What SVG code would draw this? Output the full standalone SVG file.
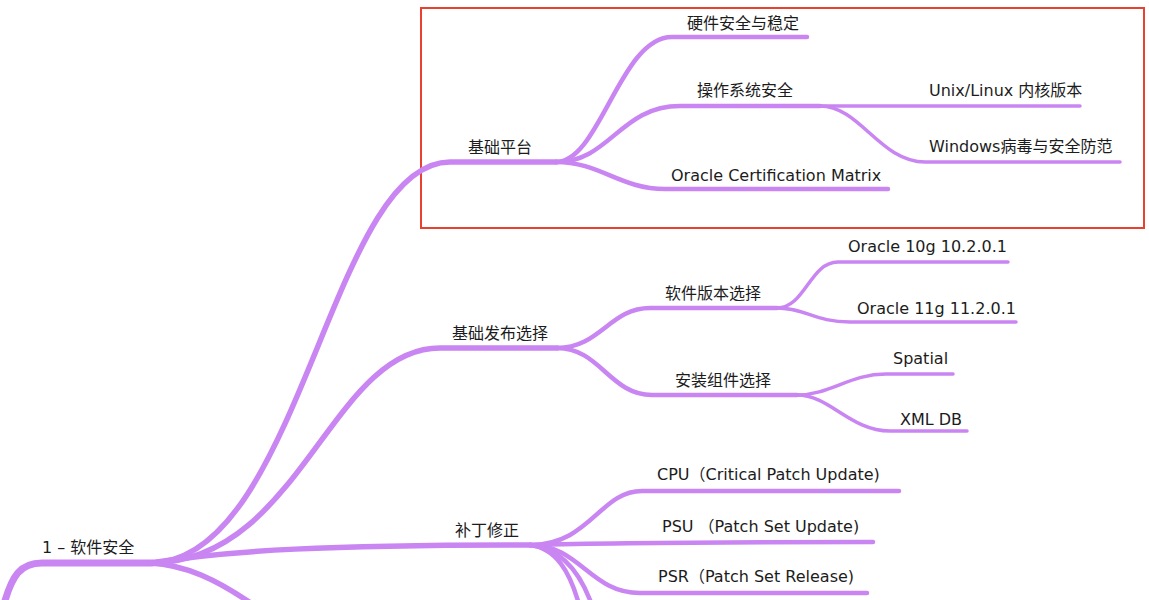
<svg xmlns="http://www.w3.org/2000/svg" width="1149" height="600" viewBox="0 0 1149 600">
<style>
.c{fill:none;stroke:#c985f2;stroke-linecap:round;stroke-linejoin:round}
.w0{stroke-width:7}
.w1{stroke-width:5.5}
.w2{stroke-width:4.5}
.w3{stroke-width:3.5}
text{font-family:"DejaVu Sans","Noto Sans CJK SC",sans-serif;font-size:16px;fill:#1c1c1c}
</style>
<rect width="1149" height="600" fill="#ffffff"/>
<rect x="421" y="8" width="723" height="220" fill="none" stroke="#e8412f" stroke-width="2"/>
<g id="connectors">
<path class="c w0" d="M4,604 C12,576 20,563 42,563 L152,563"/>
<path class="c w1" d="M150,563 C300,563 330,162 450,162 L556,162"/>
<path class="c w1" d="M150,563 C300,563 330,348 440,348 L557,348"/>
<path class="c w1" d="M150,563 C230,550 330,545 530,545"/>
<path class="c w1" d="M150,563 C185,565 215,578 258,608"/>
<path class="c w2" d="M556,162 C600,162 620,37 672,37 L807,37"/>
<path class="c w2" d="M556,162 C610,162 620,106 680,106 L820,106"/>
<path class="c w2" d="M556,162 C600,162 620,189 665,189 L888,189"/>
<path class="c w3" d="M820,106 L1080,106"/>
<path class="c w3" d="M820,106 C860,106 880,162 925,162 L1120,162"/>
<path class="c w2" d="M557,348 C600,348 610,308 650,308 L777,308"/>
<path class="c w2" d="M557,348 C600,348 610,395 652,395 L797,395"/>
<path class="c w3" d="M777,308 C805,308 810,262 838,262 L1008,262"/>
<path class="c w3" d="M777,308 C805,308 815,322 850,322 L1016,322"/>
<path class="c w3" d="M797,395 C830,395 850,374 886,374 L953,374"/>
<path class="c w3" d="M797,395 C830,395 850,431 890,431 L967,431"/>
<path class="c w2" d="M530,545 C590,545 600,491 642,491 L899,491"/>
<path class="c w2" d="M530,545 C600,543 700,542 873,542"/>
<path class="c w2" d="M530,545 C580,545 590,593 640,593 L867,593"/>
<path class="c w2" d="M530,545 C555,548 570,570 580,608"/>
<path class="c w2" d="M530,545 C560,548 580,570 593,608"/>
</g>
<g id="n-root"><text x="42" y="553">1 – 软件安全</text></g>
<g id="n-jichupingtai"><text x="468" y="153">基础平台</text></g>
<g id="n-yingjian"><text x="687" y="29">硬件安全与稳定</text></g>
<g id="n-caozuoxitong"><text x="697" y="96">操作系统安全</text></g>
<g id="n-unix"><text x="929" y="96">Unix/Linux 内核版本</text></g>
<g id="n-windows"><text x="929" y="152">Windows病毒与安全防范</text></g>
<g id="n-oraclecert"><text x="671" y="181">Oracle Certification Matrix</text></g>
<g id="n-fabu"><text x="452" y="339">基础发布选择</text></g>
<g id="n-banben"><text x="665" y="299">软件版本选择</text></g>
<g id="n-10g"><text x="848" y="252">Oracle 10g 10.2.0.1</text></g>
<g id="n-11g"><text x="857" y="314">Oracle 11g 11.2.0.1</text></g>
<g id="n-zujian"><text x="675" y="386">安装组件选择</text></g>
<g id="n-spatial"><text x="893" y="364">Spatial</text></g>
<g id="n-xmldb"><text x="900" y="425">XML DB</text></g>
<g id="n-buding"><text x="455" y="536">补丁修正</text></g>
<g id="n-cpu"><text x="657" y="480">CPU（Critical Patch Update)</text></g>
<g id="n-psu"><text x="662" y="532">PSU （Patch Set Update)</text></g>
<g id="n-psr"><text x="658" y="582">PSR（Patch Set Release)</text></g>
</svg>
